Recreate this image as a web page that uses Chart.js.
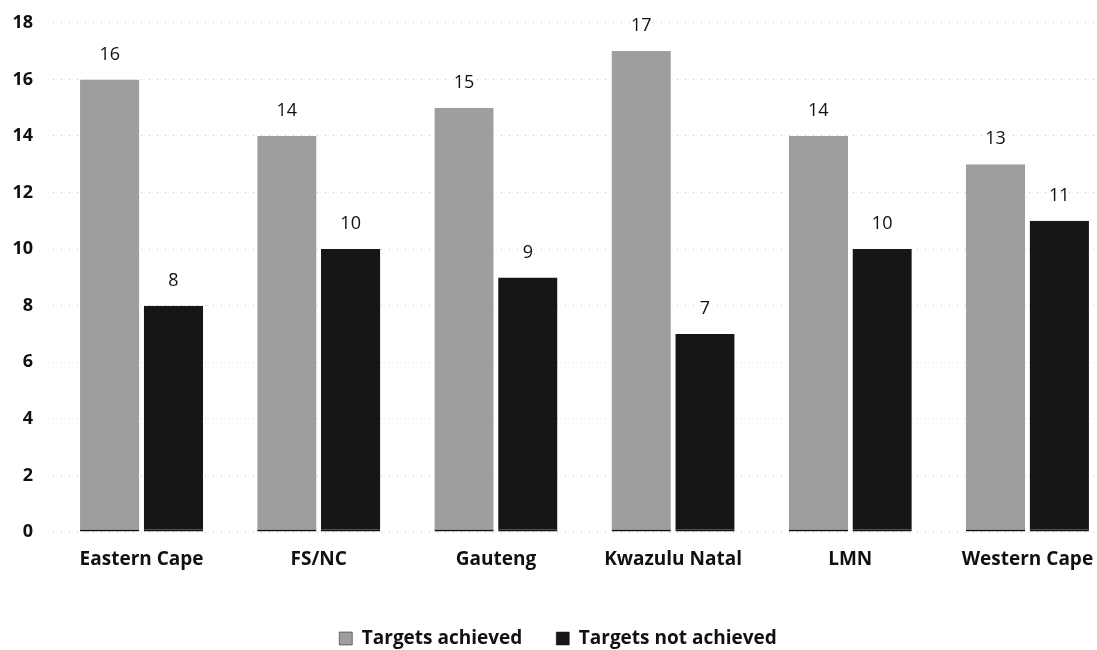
<!DOCTYPE html>
<html><head><meta charset="utf-8">
<script src="https://cdn.jsdelivr.net/npm/chart.js@4/dist/chart.umd.min.js"></script>
<style>
html,body{margin:0;padding:0;background:#fff;overflow:hidden;}
#wrap{position:absolute;left:0;top:-8px;width:1116px;height:658px;}
</style></head>
<body>
<div id="wrap"><canvas id="c"></canvas></div>
<script>
const categories = ["Eastern Cape", "FS/NC", "Gauteng", "Kwazulu Natal", "LMN", "Western Cape"];
const achieved = [16, 14, 15, 17, 14, 13];
const notAchieved = [8, 10, 9, 7, 10, 11];
const seriesNames = ["Targets achieved", "Targets not achieved"];
const yTicks = [0, 2, 4, 6, 8, 10, 12, 14, 16, 18];

const FONT = "'Open Sans', Lato, sans-serif";

const valueLabels = {
  id: 'valueLabels',
  afterDatasetsDraw(chart) {
    const ctx = chart.ctx;
    ctx.save();
    ctx.font = "18px " + FONT;
    ctx.fillStyle = "#111";
    ctx.textAlign = "center";
    ctx.textBaseline = "middle";
    chart.data.datasets.forEach((ds, i) => {
      chart.getDatasetMeta(i).data.forEach((el, j) => {
        ctx.fillText(String(ds.data[j]), el.x, el.y - 25);
      });
    });
    ctx.restore();
  }
};

const barBorder = { top: 0, left: 0, right: 0, bottom: 2 };

new Chart(document.getElementById('c'), {
  type: 'bar',
  data: {
    labels: categories,
    datasets: [
      { label: seriesNames[0], data: achieved, backgroundColor: '#9e9e9e', borderColor: '#111', borderWidth: barBorder, borderSkipped: false, categoryPercentage: 0.72, barPercentage: 0.93 },
      { label: seriesNames[1], data: notAchieved, backgroundColor: '#161616', borderColor: '#111', borderWidth: barBorder, borderSkipped: false, categoryPercentage: 0.72, barPercentage: 0.93 }
    ]
  },
  options: {
    responsive: true,
    maintainAspectRatio: false,
    animation: false,
    layout: { padding: { top: 12, left: 0, right: 0, bottom: -8 } },
    scales: {
      x: {
        grid: { display: false, drawTicks: false },
        border: { display: false },
        ticks: { color: '#111', font: { family: FONT, size: 19, weight: 'bold' }, padding: 16 },
        afterFit(scale) { scale.height = 63; }
      },
      y: {
        min: 0, max: 18,
        afterBuildTicks(scale) { scale.ticks = yTicks.map(v => ({ value: v })); },
        grid: { color: '#c8c8c8', lineWidth: 1, drawTicks: false },
        border: { display: false, dash: [1, 7] },
        ticks: { color: '#111', font: { family: FONT, size: 18, weight: 'bold' }, padding: 20 },
        afterFit(scale) { scale.width = 53; }
      }
    },
    plugins: {
      legend: {
        position: 'bottom',
        labels: { color: '#111', font: { family: FONT, size: 19, weight: 'bold' }, boxWidth: 13, boxHeight: 13, padding: 34 }
      },
      tooltip: { enabled: false }
    }
  },
  plugins: [valueLabels]
});
</script>
</body></html>
